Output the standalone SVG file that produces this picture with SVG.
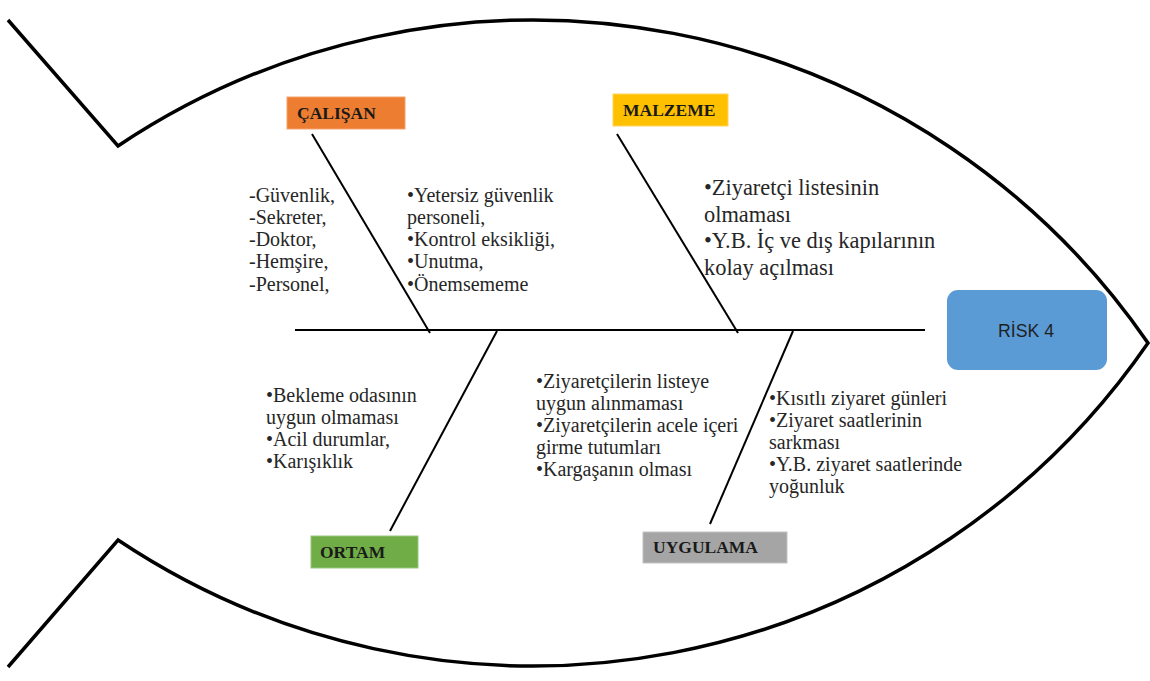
<svg xmlns="http://www.w3.org/2000/svg" width="1150" height="681" viewBox="0 0 1150 681">
  <style>
    .outline { fill: none; stroke: #000; stroke-width: 3.5; stroke-linejoin: miter; }
    .bone { fill: none; stroke: #000; stroke-width: 2; }
    .cat { font-family: "Liberation Serif", "Times New Roman", serif; font-weight: bold; font-size: 17.5px; fill: #1a1a1a; }
    .note { font-family: "Liberation Serif", "Times New Roman", serif; font-size: 20px; fill: #262626; }
    .note-lg { font-size: 22.4px; }
    .risk { font-family: "Liberation Sans", Arial, sans-serif; font-size: 18px; fill: #1f1f1f; }
  </style>

  <rect width="1150" height="681" fill="#fff"/>

  <!-- fish body and tail -->
  <g id="fish-outline">
    <path class="outline" d="M8,20 L118,146 A747,747 0 0 1 1148,343 A747,747 0 0 1 118,540 L8,667"/>
  </g>

  <!-- spine and cause bones -->
  <g id="connectors">
    <line class="bone" x1="295" y1="330" x2="925" y2="330"/>
    <line class="bone" x1="312" y1="134" x2="430" y2="333"/>
    <line class="bone" x1="617" y1="134" x2="738" y2="333"/>
    <line class="bone" x1="497" y1="331" x2="390" y2="531"/>
    <line class="bone" x1="793" y1="331" x2="710" y2="524"/>
  </g>

  <g id="node-calisan">
    <rect x="287" y="97" width="118" height="32" fill="#ED7D31" stroke="#F3A36B" stroke-width="1"/>
    <text class="cat" x="297" y="119">ÇALIŞAN</text>
  </g>

  <g id="node-malzeme">
    <rect x="613" y="94" width="115" height="32" fill="#FFC000" stroke="#FFD45A" stroke-width="1"/>
    <text class="cat" x="623" y="116">MALZEME</text>
  </g>

  <g id="node-ortam">
    <rect x="311" y="536" width="107" height="32" fill="#70AD47" stroke="#97C57A" stroke-width="1"/>
    <text class="cat" x="320" y="558">ORTAM</text>
  </g>

  <g id="node-uygulama">
    <rect x="643" y="532" width="144" height="31" fill="#A5A5A5" stroke="#C2C2C2" stroke-width="1"/>
    <text class="cat" x="653" y="553">UYGULAMA</text>
  </g>

  <g id="node-risk">
    <rect x="947" y="290" width="160" height="80" rx="11" fill="#5B9BD5"/>
    <text class="risk" x="1026" y="337" text-anchor="middle" textLength="56" lengthAdjust="spacingAndGlyphs">RİSK 4</text>
  </g>

  <g id="notes-calisan-roles">
    <text class="note" x="249">
      <tspan x="249" y="202">-Güvenlik,</tspan>
      <tspan x="249" y="224">-Sekreter,</tspan>
      <tspan x="249" y="246">-Doktor,</tspan>
      <tspan x="249" y="268">-Hemşire,</tspan>
      <tspan x="249" y="291">-Personel,</tspan>
    </text>
  </g>

  <g id="notes-calisan-causes">
    <text class="note">
      <tspan x="407" y="202">•Yetersiz güvenlik</tspan>
      <tspan x="407" y="224">personeli,</tspan>
      <tspan x="407" y="246">•Kontrol eksikliği,</tspan>
      <tspan x="407" y="268">•Unutma,</tspan>
      <tspan x="407" y="291">•Önemsememe</tspan>
    </text>
  </g>

  <g id="notes-malzeme">
    <text class="note note-lg">
      <tspan x="704" y="195">•Ziyaretçi listesinin</tspan>
      <tspan x="704" y="222">olmaması</tspan>
      <tspan x="704" y="248">•Y.B. İç ve dış kapılarının</tspan>
      <tspan x="704" y="275">kolay açılması</tspan>
    </text>
  </g>

  <g id="notes-ortam">
    <text class="note">
      <tspan x="266" y="402">•Bekleme odasının</tspan>
      <tspan x="266" y="424">uygun olmaması</tspan>
      <tspan x="266" y="446">•Acil durumlar,</tspan>
      <tspan x="266" y="468">•Karışıklık</tspan>
    </text>
  </g>

  <g id="notes-uygulama-left">
    <text class="note">
      <tspan x="536" y="388">•Ziyaretçilerin listeye</tspan>
      <tspan x="536" y="410">uygun alınmaması</tspan>
      <tspan x="536" y="432">•Ziyaretçilerin acele içeri</tspan>
      <tspan x="536" y="454">girme tutumları</tspan>
      <tspan x="536" y="476">•Kargaşanın olması</tspan>
    </text>
  </g>

  <g id="notes-uygulama-right">
    <text class="note">
      <tspan x="769" y="405">•Kısıtlı ziyaret günleri</tspan>
      <tspan x="769" y="427">•Ziyaret saatlerinin</tspan>
      <tspan x="769" y="449">sarkması</tspan>
      <tspan x="769" y="471">•Y.B. ziyaret saatlerinde</tspan>
      <tspan x="769" y="493">yoğunluk</tspan>
    </text>
  </g>
</svg>
